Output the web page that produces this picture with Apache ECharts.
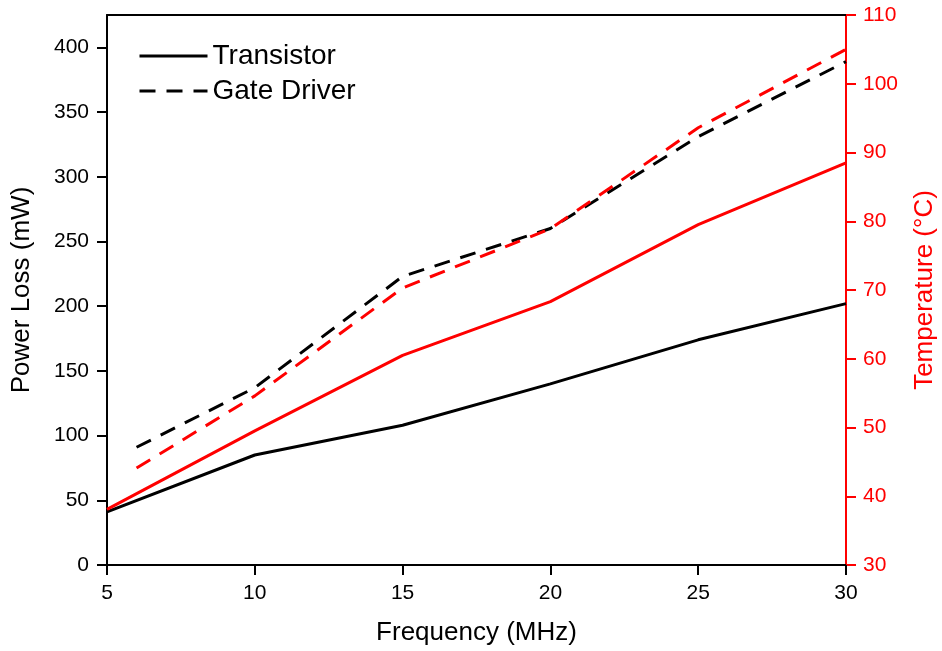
<!DOCTYPE html>
<html>
<head>
<meta charset="utf-8">
<script src="https://cdn.jsdelivr.net/npm/echarts@6/dist/echarts.min.js"></script>
<style>
  html, body { margin: 0; padding: 0; background: #fff; }
  #chart { width: 942px; height: 651px; }
</style>
</head>
<body>
<div id="chart"></div>
<script>
// frequency points (MHz)
var freqTransistor = [5, 10, 15, 20, 25, 30];
var freqDriver = [6, 10, 15, 20, 25, 30];

// power loss (mW)
var lossTransistor = [41, 85, 108, 140, 174, 202];
var lossDriver = [91, 137, 223, 260, 331, 389];

// temperature (°C)
var tempTransistor = [38.1, 49.5, 60.5, 68.3, 79.5, 88.5];
var tempDriver = [44.1, 54.6, 70.3, 78.9, 93.6, 105];

function pairs(xs, ys) {
  return xs.map(function (x, i) { return [x, ys[i]]; });
}

var font = 'Liberation Sans, Arial, sans-serif';
var chart = echarts.init(document.getElementById('chart'));

var option = {
  animation: false,
  backgroundColor: '#fff',
  textStyle: { fontFamily: font },
  grid: { left: 107, right: 96, top: 15, bottom: 86, outerBoundsMode: 'none', containLabel: false },
  legend: {
    data: ['Transistor', 'Gate Driver'],
    orient: 'vertical',
    left: 133,
    top: 37,
    itemWidth: 68,
    itemHeight: 14,
    itemGap: 7,
    itemStyle: { opacity: 0 },
    lineStyle: { width: 3 },
    textStyle: { fontSize: 28, color: '#000', fontFamily: font }
  },
  xAxis: [{
    type: 'value',
    min: 5, max: 30, interval: 5,
    name: 'Frequency (MHz)',
    nameLocation: 'middle',
    nameGap: 55,
    nameTextStyle: { fontSize: 26, color: '#000', fontFamily: font },
    axisLine: { lineStyle: { color: '#000', width: 2 } },
    axisTick: { show: true, length: 10, lineStyle: { color: '#000', width: 2 } },
    axisLabel: { fontSize: 21, color: '#000', margin: 18, fontFamily: font },
    splitLine: { show: false }
  }, {
    type: 'value',
    position: 'top',
    min: 5, max: 30,
    axisLine: { show: true, onZero: false, lineStyle: { color: '#000', width: 2 } },
    axisTick: { show: false },
    axisLabel: { show: false },
    splitLine: { show: false }
  }],
  yAxis: [{
    type: 'value',
    min: 0, max: 425, interval: 50,
    name: 'Power Loss (mW)',
    nameLocation: 'middle',
    nameGap: 72,
    nameTextStyle: { fontSize: 26, color: '#000', fontFamily: font },
    axisLine: { show: true, lineStyle: { color: '#000', width: 2 } },
    axisTick: { show: true, length: 10, lineStyle: { color: '#000', width: 2 } },
    axisLabel: { fontSize: 21, color: '#000', margin: 18, showMaxLabel: false, fontFamily: font },
    splitLine: { show: false }
  }, {
    type: 'value',
    position: 'right',
    min: 30, max: 110, interval: 10,
    name: 'Temperature (°C)',
    nameLocation: 'middle',
    nameGap: 66,
    nameRotate: 90,
    nameTextStyle: { fontSize: 26, color: '#ff0000', fontFamily: font },
    axisLine: { show: true, lineStyle: { color: '#ff0000', width: 2 } },
    axisTick: { show: true, length: 10, lineStyle: { color: '#ff0000', width: 2 } },
    axisLabel: { fontSize: 21, color: '#ff0000', margin: 17, fontFamily: font },
    splitLine: { show: false }
  }],
  series: [{
    name: 'Transistor',
    type: 'line',
    yAxisIndex: 0,
    symbol: 'none',
    color: '#000',
    lineStyle: { color: '#000', width: 3 },
    data: pairs(freqTransistor, lossTransistor)
  }, {
    name: 'Gate Driver',
    type: 'line',
    yAxisIndex: 0,
    symbol: 'none',
    color: '#000',
    lineStyle: { color: '#000', width: 3, type: [16, 11] },
    data: pairs(freqDriver, lossDriver)
  }, {
    name: 'Transistor Temperature',
    type: 'line',
    yAxisIndex: 1,
    symbol: 'none',
    color: '#ff0000',
    lineStyle: { color: '#ff0000', width: 3 },
    data: pairs(freqTransistor, tempTransistor)
  }, {
    name: 'Gate Driver Temperature',
    type: 'line',
    yAxisIndex: 1,
    symbol: 'none',
    color: '#ff0000',
    lineStyle: { color: '#ff0000', width: 3, type: [16, 11] },
    data: pairs(freqDriver, tempDriver)
  }]
};

chart.setOption(option);
</script>
</body>
</html>
